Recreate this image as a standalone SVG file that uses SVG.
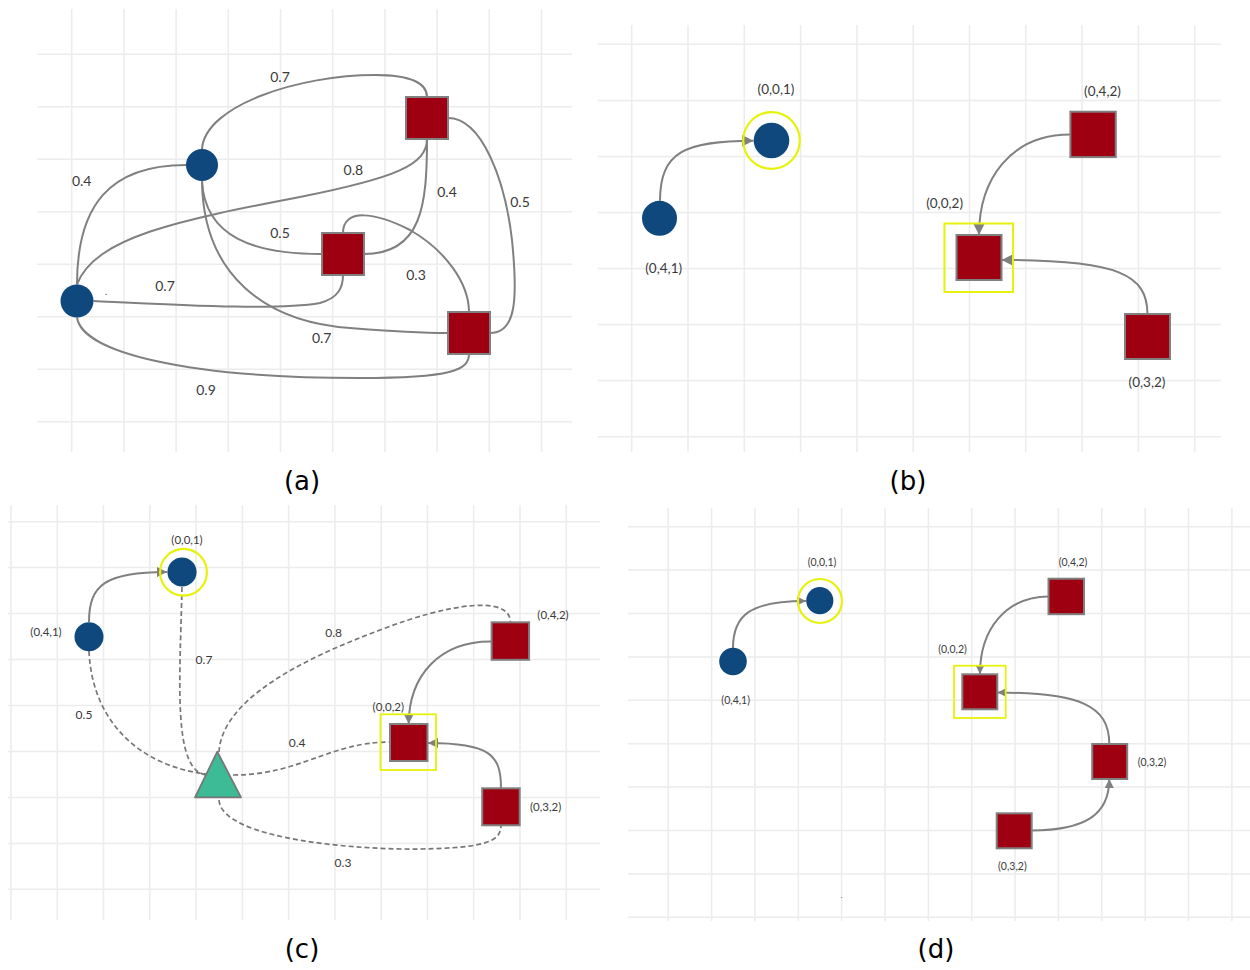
<svg xmlns="http://www.w3.org/2000/svg" width="1250" height="970" viewBox="0 0 1250 970">
<style>
.grid{fill:none;stroke:#ececec;stroke-width:1.5}
.edge{fill:none;stroke:#808080;stroke-width:2}
.dash{fill:none;stroke:#777;stroke-width:1.7;stroke-dasharray:5 3}
.circ{fill:#0e487c}
.sq{fill:#9e0012;stroke:#808080;stroke-width:2}
.ring{fill:none;stroke:#e6f20a;stroke-width:2.2}
.lbl{font-family:Lato,"Noto Sans",sans-serif;fill:#3a3a3a;text-anchor:middle}
.cap{font-family:"DejaVu Sans",sans-serif;fill:#000;font-size:26px;text-anchor:middle}
</style>
<defs>
<marker id="arB" viewBox="0 0 12 12" refX="12" refY="6" markerWidth="12" markerHeight="12" markerUnits="userSpaceOnUse" orient="auto"><path d="M0,0 L12,6 L0,12 z" fill="#808080"/></marker>
<marker id="arC" viewBox="0 0 10 10" refX="10" refY="5" markerWidth="10" markerHeight="10" markerUnits="userSpaceOnUse" orient="auto"><path d="M0,0 L10,5 L0,10 z" fill="#808080"/></marker>
<marker id="arD" viewBox="0 0 9 9" refX="9" refY="4.5" markerWidth="9" markerHeight="9" markerUnits="userSpaceOnUse" orient="auto"><path d="M0,0 L9,4.5 L0,9 z" fill="#808080"/></marker>
</defs>
<rect width="1250" height="970" fill="#fff"/>

<g id="grids">
<path class="grid" d="M71.7,9V452M123.9,9V452M176.1,9V452M228.3,9V452M280.5,9V452M332.7,9V452M384.9,9V452M437.1,9V452M489.3,9V452M541.5,9V452M37,54.2H572M37,106.7H572M37,159.2H572M37,211.7H572M37,264.2H572M37,316.7H572M37,369.2H572M37,421.7H572"/>
<path class="grid" d="M631.7,25V452M688,25V452M744.3,25V452M800.6,25V452M856.9,25V452M913.2,25V452M969.5,25V452M1025.8,25V452M1082.1,25V452M1138.4,25V452M1194.7,25V452M598,44.3H1221M598,100.4H1221M598,156.4H1221M598,212.5H1221M598,268.5H1221M598,324.6H1221M598,380.6H1221M598,436.7H1221"/>
<path class="grid" d="M11,505V920M57.3,505V920M103.5,505V920M149.8,505V920M196.1,505V920M242.4,505V920M288.6,505V920M334.9,505V920M381.2,505V920M427.4,505V920M473.7,505V920M520,505V920M566.2,505V920M8,521.7H600M8,567.6H600M8,613.6H600M8,659.6H600M8,705.5H600M8,751.5H600M8,797.4H600M8,843.4H600M8,889.3H600"/>
<path class="grid" d="M668.2,508V921M711.6,508V921M754.9,508V921M798.3,508V921M841.6,508V921M885,508V921M928.4,508V921M971.7,508V921M1015.1,508V921M1058.4,508V921M1101.8,508V921M1145.2,508V921M1188.5,508V921M1231.9,508V921M628,526.7H1250M628,570.1H1250M628,613.5H1250M628,656.9H1250M628,700.3H1250M628,743.7H1250M628,787.1H1250M628,830.5H1250M628,873.9H1250M628,917.3H1250"/>
</g>

<g id="connectors">
<!-- panel a -->
<path class="edge" d="M202,149 C205,105 300,75 375,75 C412,75 427,84 427,97"/>
<path class="edge" d="M77,284.5 C77,205 110,165 186,165"/>
<path class="edge" d="M77,284.5 C95,237 180,220 300,197 C395,178 427,165 427,139"/>
<path class="edge" d="M202,181 C205,238 255,254 322,254"/>
<path class="edge" d="M202,181 C203,275 265,322 350,328 C400,332 430,333 448,333"/>
<path class="edge" d="M93.5,301 C200,306 280,310 320,303 C338,298 343,288 343,275"/>
<path class="edge" d="M427,139 C427,205 422,254 364,254"/>
<path class="edge" d="M343,233 C343,208 375,212 410,230 C445,250 469,283 469,312"/>
<path class="edge" d="M448,118 C482,118 505,180 512,240 C518,300 516,333 490,333"/>
<path class="edge" d="M77,317.5 C82,352 185,378 360,378 C452,378 469,370 469,354"/>
<!-- panel b -->
<path class="edge" d="M660,200.8 C660,152 685,140.7 753.5,140.7" marker-end="url(#arB)"/>
<path class="edge" d="M1070.4,134.5 C1010,134.5 979,180 979,235" marker-end="url(#arB)"/>
<path class="edge" d="M1147.5,314 C1147,275 1120,260 1001.5,260" marker-end="url(#arB)"/>
<!-- panel c -->
<path class="dash" d="M89,651 C92,722 140,766 206,774"/>
<path class="dash" d="M182,587 C180,680 172,772 207,775"/>
<path class="dash" d="M219,752 C222,700 300,660 380,630 C450,603 510,595 510.4,622"/>
<path class="dash" d="M233,775 C300,775 330,742 390,742"/>
<path class="dash" d="M219,800 C222,840 360,850 420,849 C490,848 501,840 501,825"/>
<path class="edge" stroke-width="1.8" d="M89,622 C89,585 105,572 167,572" marker-end="url(#arC)"/>
<path class="edge" stroke-width="1.8" d="M491.6,641.5 C440,641 409,675 408.7,724" marker-end="url(#arC)"/>
<path class="edge" stroke-width="1.8" d="M501,788 C501,755 490,743 428,743" marker-end="url(#arC)"/>
<!-- panel d -->
<path class="edge" stroke-width="1.7" d="M733,648 C733,615 750,601 806,601" marker-end="url(#arD)"/>
<path class="edge" stroke-width="1.7" d="M1048.5,596.5 C1005,597 980,630 980,674" marker-end="url(#arD)"/>
<path class="edge" stroke-width="1.7" d="M1109.3,744 C1109,705 1080,693 997.5,692.5" marker-end="url(#arD)"/>
<path class="edge" stroke-width="1.7" d="M1031.7,830.5 C1085,830 1109.3,815 1109.3,779" marker-end="url(#arD)"/>
</g>

<!-- panel a nodes -->
<g id="a-c1"><circle class="circ" cx="202" cy="165" r="16"/></g>
<g id="a-c2"><circle class="circ" cx="77" cy="301" r="16.5"/></g>
<g id="a-s1"><rect class="sq" x="406" y="97" width="42" height="42"/></g>
<g id="a-s2"><rect class="sq" x="322" y="233" width="42" height="42"/></g>
<g id="a-s3"><rect class="sq" x="448" y="312" width="42" height="42"/></g>
<g id="a-labels" class="lbl" font-size="14">
<text x="280" y="81.5">0.7</text>
<text x="81.7" y="186">0.4</text>
<text x="353.3" y="175">0.8</text>
<text x="447" y="196.5">0.4</text>
<text x="520" y="206.5">0.5</text>
<text x="280" y="237.5">0.5</text>
<text x="416" y="280">0.3</text>
<text x="165" y="291">0.7</text>
<text x="321.7" y="342.5">0.7</text>
<text x="206" y="395">0.9</text>
<text x="106" y="295" font-size="9">.</text>
</g>

<!-- panel b nodes -->
<g id="b-001"><circle class="circ" cx="771.5" cy="140.5" r="17.8"/><circle class="ring" cx="771.5" cy="140.5" r="28.3"/><text class="lbl" font-size="13.5" x="776" y="94">(0,0,1)</text></g>
<g id="b-041"><circle class="circ" cx="659.5" cy="218.3" r="17.5"/><text class="lbl" font-size="13.5" x="663.7" y="273">(0,4,1)</text></g>
<g id="b-042"><rect class="sq" x="1070.4" y="111.7" width="45.4" height="45.4"/><text class="lbl" font-size="13.5" x="1102.5" y="95.5">(0,4,2)</text></g>
<g id="b-002"><rect class="sq" x="956.5" y="235" width="45" height="45"/><rect fill="none" stroke="#e6f20a" stroke-width="2" x="944.5" y="223.5" width="68.5" height="68.5"/><text class="lbl" font-size="13.5" x="944.6" y="207.5">(0,0,2)</text></g>
<g id="b-032"><rect class="sq" x="1125" y="314" width="45" height="45"/><text class="lbl" font-size="13.5" x="1147" y="386.5">(0,3,2)</text></g>

<!-- panel c nodes -->
<g id="c-001"><circle class="circ" cx="182" cy="572" r="14.6"/><circle class="ring" stroke-width="1.8" cx="183.5" cy="572.3" r="23.4"/><text class="lbl" font-size="11.5" x="187" y="543.5">(0,0,1)</text></g>
<g id="c-041"><circle class="circ" cx="89" cy="636.7" r="14.5"/><text class="lbl" font-size="11.5" x="46" y="636">(0,4,1)</text></g>
<g id="c-tri"><polygon points="217.3,751.7 195,797.3 241,797.3" fill="#3dba96" stroke="#777" stroke-width="1.8" stroke-linejoin="round"/></g>
<g id="c-042"><rect class="sq" x="491.6" y="622.3" width="37.5" height="37.5"/><text class="lbl" font-size="11.5" x="553" y="618.5">(0,4,2)</text></g>
<g id="c-002"><rect class="sq" x="390" y="724" width="37.5" height="37"/><rect fill="none" stroke="#e6f20a" stroke-width="1.8" x="380.5" y="714.3" width="55.5" height="55.7"/><text class="lbl" font-size="11.5" x="388.3" y="710.5">(0,0,2)</text></g>
<g id="c-032"><rect class="sq" x="482.2" y="788.3" width="37.5" height="37"/><text class="lbl" font-size="11.5" x="545.6" y="811">(0,3,2)</text></g>
<g id="c-labels" class="lbl" font-size="12">
<text x="333.6" y="636.5">0.8</text>
<text x="204" y="664">0.7</text>
<text x="84" y="719">0.5</text>
<text x="297.2" y="746.5">0.4</text>
<text x="343" y="866.5">0.3</text>
</g>

<!-- panel d nodes -->
<g id="d-001"><circle class="circ" cx="819.8" cy="600.7" r="13.6"/><circle class="ring" stroke-width="1.8" cx="820" cy="601" r="22"/><text class="lbl" font-size="10.5" x="822" y="565.5">(0,0,1)</text></g>
<g id="d-041"><circle class="circ" cx="733" cy="661.5" r="13.8"/><text class="lbl" font-size="10.5" x="735.7" y="704">(0,4,1)</text></g>
<g id="d-042"><rect class="sq" x="1048.5" y="578.7" width="35.5" height="35.5"/><text class="lbl" font-size="10.5" x="1073" y="566">(0,4,2)</text></g>
<g id="d-002"><rect class="sq" x="962.3" y="674.3" width="35" height="35"/><rect fill="none" stroke="#e6f20a" stroke-width="1.8" x="954" y="665.7" width="51.7" height="52.3"/><text class="lbl" font-size="10.5" x="952.5" y="652.7">(0,0,2)</text></g>
<g id="d-032a"><rect class="sq" x="1092.2" y="744" width="35" height="35"/><text class="lbl" font-size="10.5" x="1152" y="765.5">(0,3,2)</text></g>
<g id="d-032b"><rect class="sq" x="996.7" y="813.3" width="35" height="35"/><text class="lbl" font-size="10.5" x="1012.4" y="869.5">(0,3,2)</text></g>
<text class="lbl" font-size="7" x="841.7" y="898">.</text>

<g id="captions">
<text class="cap" x="302" y="490">(a)</text>
<text class="cap" x="908" y="490">(b)</text>
<text class="cap" x="302" y="958">(c)</text>
<text class="cap" x="936" y="958">(d)</text>
</g>
</svg>
